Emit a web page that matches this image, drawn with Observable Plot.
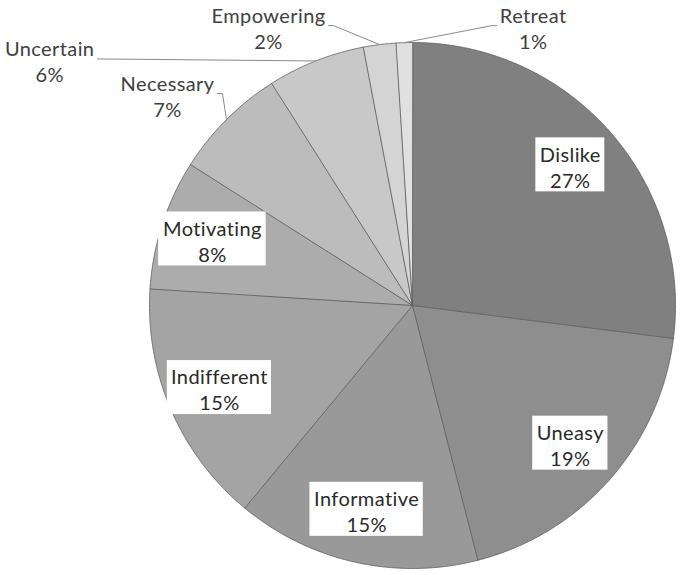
<!DOCTYPE html>
<html><head><meta charset="utf-8">
<script src="https://cdn.jsdelivr.net/npm/d3@7"></script>
<script src="https://cdn.jsdelivr.net/npm/@observablehq/plot@0.6"></script>
<style>body{margin:0;background:#fff;} #chart svg{display:block;} #chart text{letter-spacing:0.4px;}</style>
</head><body><div id="chart"></div>
<script>
// ---- data ----
const categories = ["Dislike","Uneasy","Informative","Indifferent","Motivating","Necessary","Uncertain","Empowering","Retreat"];
const percents   = [27, 19, 15, 15, 8, 7, 6, 2, 1];
const fills      = ["#808080","#8e8e8e","#999999","#a4a4a4","#acacac","#bcbcbc","#c8c8c8","#d4d4d4","#e0e0e0"];
const outsideLabels = ["Necessary","Uncertain","Empowering","Retreat"];

// ---- layout (pixels) ----
const W = 685, H = 575, CX = 412, CY = 305, R = 263;
const FONT = "Lato, 'Open Sans', sans-serif";
const FS = 20, LS = 0.4;
const innerRadius = 0.8;
// nudges of the outside labels from the slice's arc midpoint
const labelNudge = {Necessary: [-59, -24], Uncertain: [-266, 0], Empowering: [-111, -17], Retreat: [129, -15]};

const ctx = document.createElement("canvas").getContext("2d");
ctx.font = `${FS}px Lato`;
const tw = s => ctx.measureText(s).width + LS * s.length;

const arcs = d3.pie().sort(null).startAngle(0).endAngle(2 * Math.PI)(percents);
const polar = (r, a) => [r * Math.sin(a), -r * Math.cos(a)];

// slice polygons
const slicePts = [];
arcs.forEach((a, i) => {
  const cat = categories[i];
  slicePts.push({cat, x: 0, y: 0});
  const n = Math.max(2, Math.ceil((a.endAngle - a.startAngle) / 0.005));
  for (let k = 0; k <= n; k++) {
    const t = a.startAngle + (a.endAngle - a.startAngle) * k / n;
    const [x, y] = polar(R, t);
    slicePts.push({cat, x, y});
  }
});

// labels
const inner = [], outer = [], leaders = [], boxes = [];
arcs.forEach((a, i) => {
  const cat = categories[i];
  const text = `${cat}\n${percents[i]}%`;
  const mid = (a.startAngle + a.endAngle) / 2;
  const w = Math.max(tw(cat), tw(`${percents[i]}%`));
  if (outsideLabels.includes(cat)) {
    const [ax, ay] = polar(R, mid);
    const [nx, ny] = labelNudge[cat];
    const lx = ax + nx, ly = ay + ny;
    outer.push({text, x: lx, y: ly});
    const sign = lx < ax ? 1 : -1; // side facing the anchor
    const sx = lx + sign * (w / 2 + 3), sy = ly - 2;
    leaders.push({cat, x: sx, y: sy});
    leaders.push({cat, x: sx + sign * 5, y: sy});
    leaders.push({cat, x: ax, y: ay});
  } else {
    const [x, y] = polar(innerRadius * R, mid);
    inner.push({text, x, y});
    boxes.push({x1: x - w / 2 - 4, x2: x + w / 2 + 4, y1: y - 28.5, y2: y + 25.5});
  }
});

const chart = Plot.plot({
  width: W, height: H,
  margin: 0,
  style: {fontFamily: FONT, background: "#fff"},
  x: {domain: [-CX, W - CX], range: [0, W], axis: null},
  y: {domain: [-CY, H - CY], range: [0, H], axis: null},
  color: {type: "ordinal", domain: categories, range: fills},
  marks: [
    Plot.line(slicePts, {x: "x", y: "y", z: "cat", fill: "cat", stroke: "#5c5c5c", strokeWidth: 0.8, strokeLinejoin: "round", curve: "linear-closed"}),
    Plot.line(leaders, {x: "x", y: "y", z: "cat", stroke: "#8a8a8a", strokeWidth: 1}),
    Plot.rect(boxes, {x1: "x1", x2: "x2", y1: "y1", y2: "y2", fill: "white"}),
    Plot.text(inner, {x: "x", y: "y", text: "text", fontSize: FS, lineHeight: 1.3, fill: "#2a2a2a", fontFamily: FONT}),
    Plot.text(outer, {x: "x", y: "y", text: "text", fontSize: FS, lineHeight: 1.3, fill: "#404040", fontFamily: FONT})
  ]
});
document.getElementById("chart").append(chart);
</script>
</body></html>
